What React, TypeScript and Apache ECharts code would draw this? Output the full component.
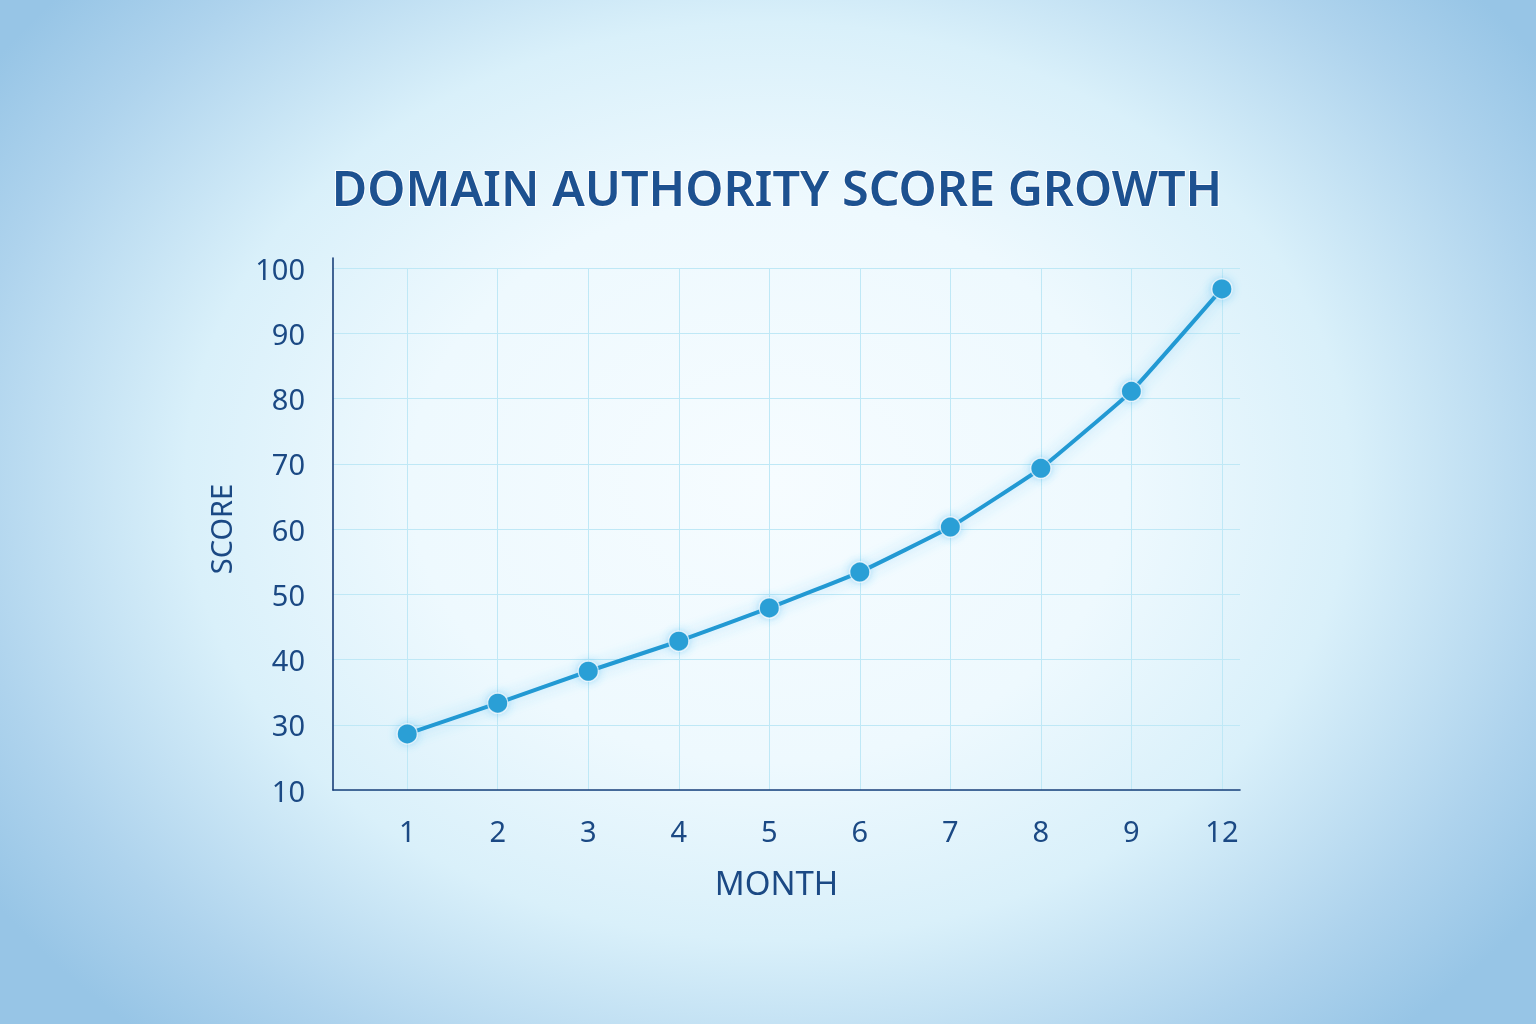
import React, { useEffect, useRef } from "react";
import * as echarts from "echarts";

const titleText = "DOMAIN AUTHORITY SCORE GROWTH";
const xAxisName = "MONTH";
const yAxisName = "SCORE";
const months = ["1", "2", "3", "4", "5", "6", "7", "8", "9", "12"];
const scores = [28.6, 33.3, 38.2, 42.8, 47.9, 53.4, 60.3, 69.3, 81.1, 96.8];
const yTickValues = [20, 30, 40, 50, 60, 70, 80, 90, 100];
const yTickLabels = ["10", "30", "40", "50", "60", "70", "80", "90", "100"];

const TEXT = "#1b4984";
const FONT = "'Noto Sans', 'Open Sans', sans-serif";

export default function App() {
  const ref = useRef<HTMLDivElement>(null);
  useEffect(() => {
    if (!ref.current) return;
    const chart = echarts.init(ref.current, undefined, { renderer: "svg" });
    const seriesData = scores.map((s, i) => [i, s]);
    chart.setOption({
      animation: false,
      title: {
        text: titleText,
        left: 772,
        textAlign: "center",
        top: 157,
        padding: 5,
        textStyle: {
          fontFamily: FONT,
          fontSize: 48.5,
          fontWeight: 600,
          color: "#1d5190",
          textBorderColor: "rgba(255,255,255,0.85)",
          textBorderWidth: 2,
        },
      },
      grid: [
        { left: 333, right: 296, top: 268, bottom: 234 },
        { left: 333, right: 296, top: 258, bottom: 234 },
      ],
      xAxis: [
        {
          type: "value",
          gridIndex: 0,
          min: -0.82,
          max: 9.2,
          minInterval: 1,
          maxInterval: 1,
          name: xAxisName,
          nameLocation: "middle",
          nameGap: 76,
          nameTextStyle: {
            fontFamily: FONT,
            fontSize: 33,
            color: TEXT,
            padding: [0, 20, 0, 0],
          },
          axisLine: { show: true, onZero: false, lineStyle: { color: "#1a3f7a", width: 1.6 } },
          axisTick: { show: false },
          splitLine: {
            show: true,
            showMinLine: false,
            showMaxLine: false,
            lineStyle: { color: "#bfe8f6", width: 1 },
          },
          axisLabel: {
            margin: 26,
            fontFamily: FONT,
            fontSize: 29,
            color: TEXT,
            showMinLabel: true,
            showMaxLabel: true,
            formatter: (v: number) => {
              const r = Math.round(v);
              return Math.abs(v - r) < 1e-6 && months[r] !== undefined ? months[r] : "";
            },
          },
        },
        { type: "value", gridIndex: 1, show: false, min: 0, max: 1 },
      ],
      yAxis: [
        {
          type: "value",
          gridIndex: 0,
          min: 20,
          max: 100,
          interval: 10,
          name: yAxisName,
          nameLocation: "middle",
          nameGap: 98,
          nameTextStyle: {
            fontFamily: FONT,
            fontSize: 29,
            color: TEXT,
          },
          axisLine: { show: false },
          axisTick: { show: false },
          splitLine: { show: true, lineStyle: { color: "#bfe8f6", width: 1 } },
          axisLabel: {
            margin: 28,
            fontFamily: FONT,
            fontSize: 29,
            color: TEXT,
            formatter: (v: number) => {
              const idx = yTickValues.indexOf(Math.round(v));
              return idx >= 0 ? yTickLabels[idx] : "";
            },
          },
        },
        {
          type: "value",
          gridIndex: 1,
          min: 0,
          max: 1,
          axisLine: { show: true, onZero: false, lineStyle: { color: "#1a3f7a", width: 1.6 } },
          axisTick: { show: false },
          axisLabel: { show: false },
          splitLine: { show: false },
        },
      ],
      series: [
        {
          type: "line",
          xAxisIndex: 0,
          yAxisIndex: 0,
          data: seriesData,
          symbol: "circle",
          symbolSize: 20,
          smooth: 0.1,
          lineStyle: {
            color: "#2299d3",
            width: 4,
            shadowColor: "rgba(60,180,240,0.45)",
            shadowBlur: 14,
          },
          itemStyle: {
            color: "#2a9fd6",
            borderColor: "rgba(255,255,255,0.7)",
            borderWidth: 1.2,
            shadowColor: "rgba(60,180,240,0.45)",
            shadowBlur: 10,
          },
          z: 5,
        },
      ],
    });
    return () => chart.dispose();
  }, []);
  return (
    <div
      style={{
        position: "fixed",
        left: 0,
        top: 0,
        width: 1536,
        height: 1024,
        background:
          "radial-gradient(ellipse 940px 740px at 50% 47%, #f6fcff 0%, #eef9fe 38%, #d9f0fa 62%, #aed3ed 86%, #97c5e6 100%)",
      }}
    >
      <div ref={ref} style={{ width: 1536, height: 1024 }} />
    </div>
  );
}
